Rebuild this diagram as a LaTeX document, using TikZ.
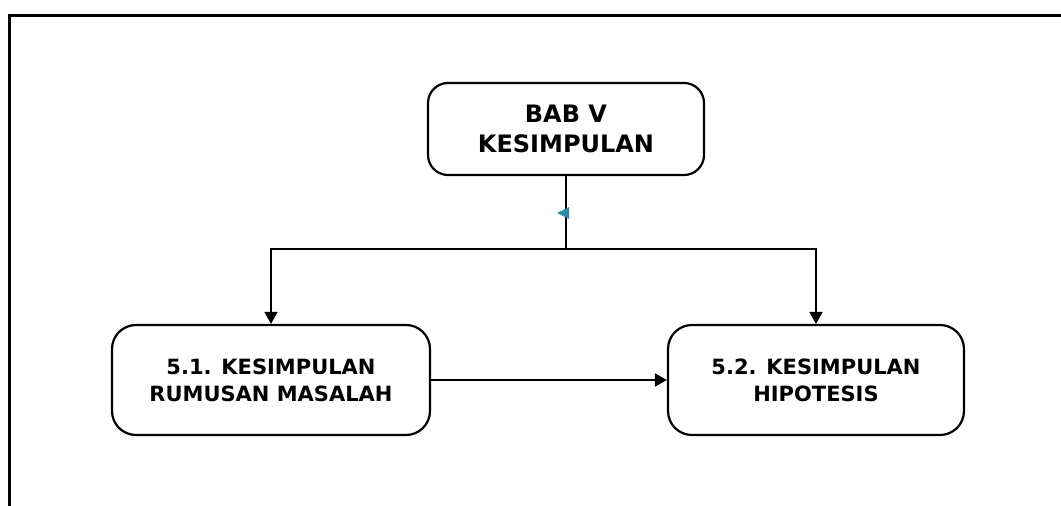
\documentclass[tikz,border=0pt]{standalone}
\usepackage{fontspec}
\setmainfont{DejaVu Sans}
\usetikzlibrary{arrows.meta}
\definecolor{markteal}{HTML}{2E8BA0}
\tikzset{>={Triangle[length=12pt,width=13pt]}}
\tikzstyle{every node}=[align=center]
\tikzstyle{bab}=[draw, line width=2.2pt, rounded corners=20pt, inner sep=0pt, font=\fontsize{24}{30}\selectfont\bfseries]
\tikzstyle{subbab}=[draw, line width=2.2pt, rounded corners=24pt, inner sep=0pt, font=\fontsize{21}{27}\selectfont\bfseries]

\begin{document}
\begin{tikzpicture}[x=1pt, y=-1pt, line width=1.6pt]
\useasboundingbox (0,0) rectangle (1061,506);

\node[bab, minimum width=276pt, minimum height=92pt] (babv) at (566,129) {BAB V\\KESIMPULAN};
\node[subbab, minimum width=318pt, minimum height=110pt] (rumusan) at (271,380) {5.1. KESIMPULAN\\RUMUSAN MASALAH};
\node[subbab, minimum width=296pt, minimum height=110pt] (hipotesis) at (816,380) {5.2. KESIMPULAN\\HIPOTESIS};
\coordinate (split) at (566,249);

\draw[line width=3pt] (9,506) -- (9,15) -- (1061,15);
\draw (babv) to (split);
\draw[->] (split) -| (rumusan);
\draw[->] (split) -| (hipotesis);
\draw[->] (rumusan) to (hipotesis);
\fill[markteal] (557,213) -- (569,207) -- (569,219) -- cycle;

\end{tikzpicture}
\end{document}
